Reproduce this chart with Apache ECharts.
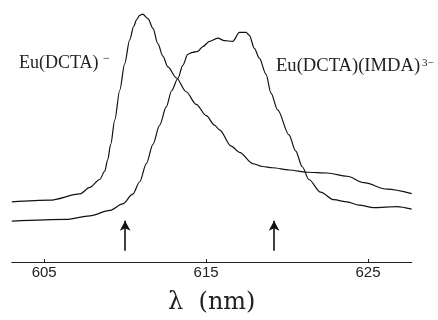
<!DOCTYPE html>
<html>
<head>
<meta charset="utf-8">
<script src="https://cdn.jsdelivr.net/npm/echarts@6/dist/echarts.min.js"></script>
<style>
  html, body { margin: 0; padding: 0; background: #fff; }
  #chart { width: 438px; height: 320px; }
</style>
</head>
<body>
<div id="chart"></div>
<script>
// wavelength (nm) / relative intensity
var dctaX = [603.0, 605.35, 607.2, 607.82, 608.43, 608.74, 608.92, 609.11, 609.36, 609.67, 609.97, 610.28,
             610.53, 610.71, 610.9, 611.08, 611.41, 611.72, 612.02, 612.33, 612.64, 613.16, 613.77,
             614.39, 615.01, 615.52, 615.83, 616.55, 617.06, 617.88, 618.48, 619.11, 620.14, 621.25,
             622.48, 623.72, 624.74, 626.18, 627.7];
var dctaY = [24.1, 24.8, 27.3, 29.9, 33.1, 36.4, 41.0, 47.2, 57.0, 69.0, 79.5, 89.1,
             94.5, 97.2, 98.9, 99.4, 97.6, 93.7, 87.6, 82.6, 78.3, 73.9, 68.3,
             63.2, 58.7, 54.9, 53.0, 46.5, 44.0, 39.5, 38.3, 37.8, 36.9, 36.0,
             35.7, 34.4, 31.8, 29.2, 27.4];

var imdaX = [603.0, 606.38, 607.82, 609.05, 609.85, 610.47, 610.9, 611.31, 611.72, 612.13, 612.54,
             612.87, 613.26, 613.56, 613.87, 614.16, 614.49, 614.8, 615.21, 615.72, 616.13, 616.65,
             617.06, 617.47, 617.67, 617.98, 618.29, 618.7, 619.01, 619.42, 620.12, 620.53, 620.94,
             621.35, 622.07, 622.89, 623.71, 624.45, 625.36, 626.79, 627.7];
var imdaY = [16.4, 17.1, 18.5, 20.7, 23.3, 27.2, 32.2, 39.5, 47.2, 54.9, 62.2,
             68.7, 73.7, 78.9, 83.3, 84.1, 84.5, 86.4, 88.5, 89.8, 88.8, 88.5,
             92.1, 92.1, 91.0, 85.7, 81.8, 75.4, 67.7, 61.0, 51.0, 44.6, 38.2,
             33.1, 28.0, 25.0, 24.1, 22.8, 21.8, 22.2, 21.2];

var tickValues = [605, 615, 625];
var arrowX = [610, 619.2];
var arrowBase = 4.5;
var arrowTip = 16.5;

function pairs(xs, ys) {
    return xs.map(function (x, i) { return [x, ys[i]]; });
}

var myChart = echarts.init(document.getElementById('chart'));
var option = {
    backgroundColor: '#fff',
    animation: false,
    grid: { left: 11.8, right: 26.3, top: 12.7, bottom: 47.3 },
    xAxis: {
        type: 'value',
        min: 603,
        max: 627.7,
        name: 'λ  (nm)',
        nameLocation: 'middle',
        nameGap: 29,
        nameTextStyle: { fontFamily: 'DejaVu Serif', fontSize: 24, color: '#222' },
        axisLine: { show: true, lineStyle: { color: '#222', width: 1.2 } },
        axisTick: { show: true, inside: true, length: 3, customValues: tickValues, lineStyle: { color: '#222' } },
        axisLabel: { customValues: tickValues, margin: 3, fontFamily: 'Liberation Sans', fontSize: 15, color: '#222' },
        splitLine: { show: false }
    },
    yAxis: {
        type: 'value',
        min: 0,
        max: 100,
        show: false
    },
    series: [{
        name: 'Eu(DCTA)-',
        type: 'line',
        data: pairs(dctaX, dctaY),
        showSymbol: false,
        smooth: 0.3,
        smoothMonotone: 'x',
        lineStyle: { color: '#111', width: 1.2 },
        markLine: {
            silent: true,
            symbol: ['none', 'arrow'],
            symbolSize: [8, 10],
            label: { show: false },
            lineStyle: { color: '#111', width: 1.6, type: 'solid' },
            data: arrowX.map(function (x) {
                return [{ coord: [x, arrowBase] }, { coord: [x, arrowTip] }];
            })
        }
    }, {
        name: 'Eu(DCTA)(IMDA)3-',
        type: 'line',
        data: pairs(imdaX, imdaY),
        showSymbol: false,
        smooth: 0.3,
        smoothMonotone: 'x',
        lineStyle: { color: '#111', width: 1.2 }
    }],
    graphic: [
        { type: 'text', left: 19, top: 54, style: { text: 'Eu(DCTA)', font: '18px "Liberation Serif"', fill: '#222' } },
        { type: 'text', left: 103, top: 53, style: { text: '−', font: '12px "Liberation Serif"', fill: '#222' } },
        { type: 'text', left: 276, top: 57, style: { text: 'Eu(DCTA)(IMDA)', font: '18.6px "Liberation Serif"', fill: '#222' } },
        { type: 'text', left: 422, top: 58, style: { text: '3−', font: '11px "Liberation Serif"', fill: '#222' } }
    ]
};
myChart.setOption(option);
</script>
</body>
</html>
